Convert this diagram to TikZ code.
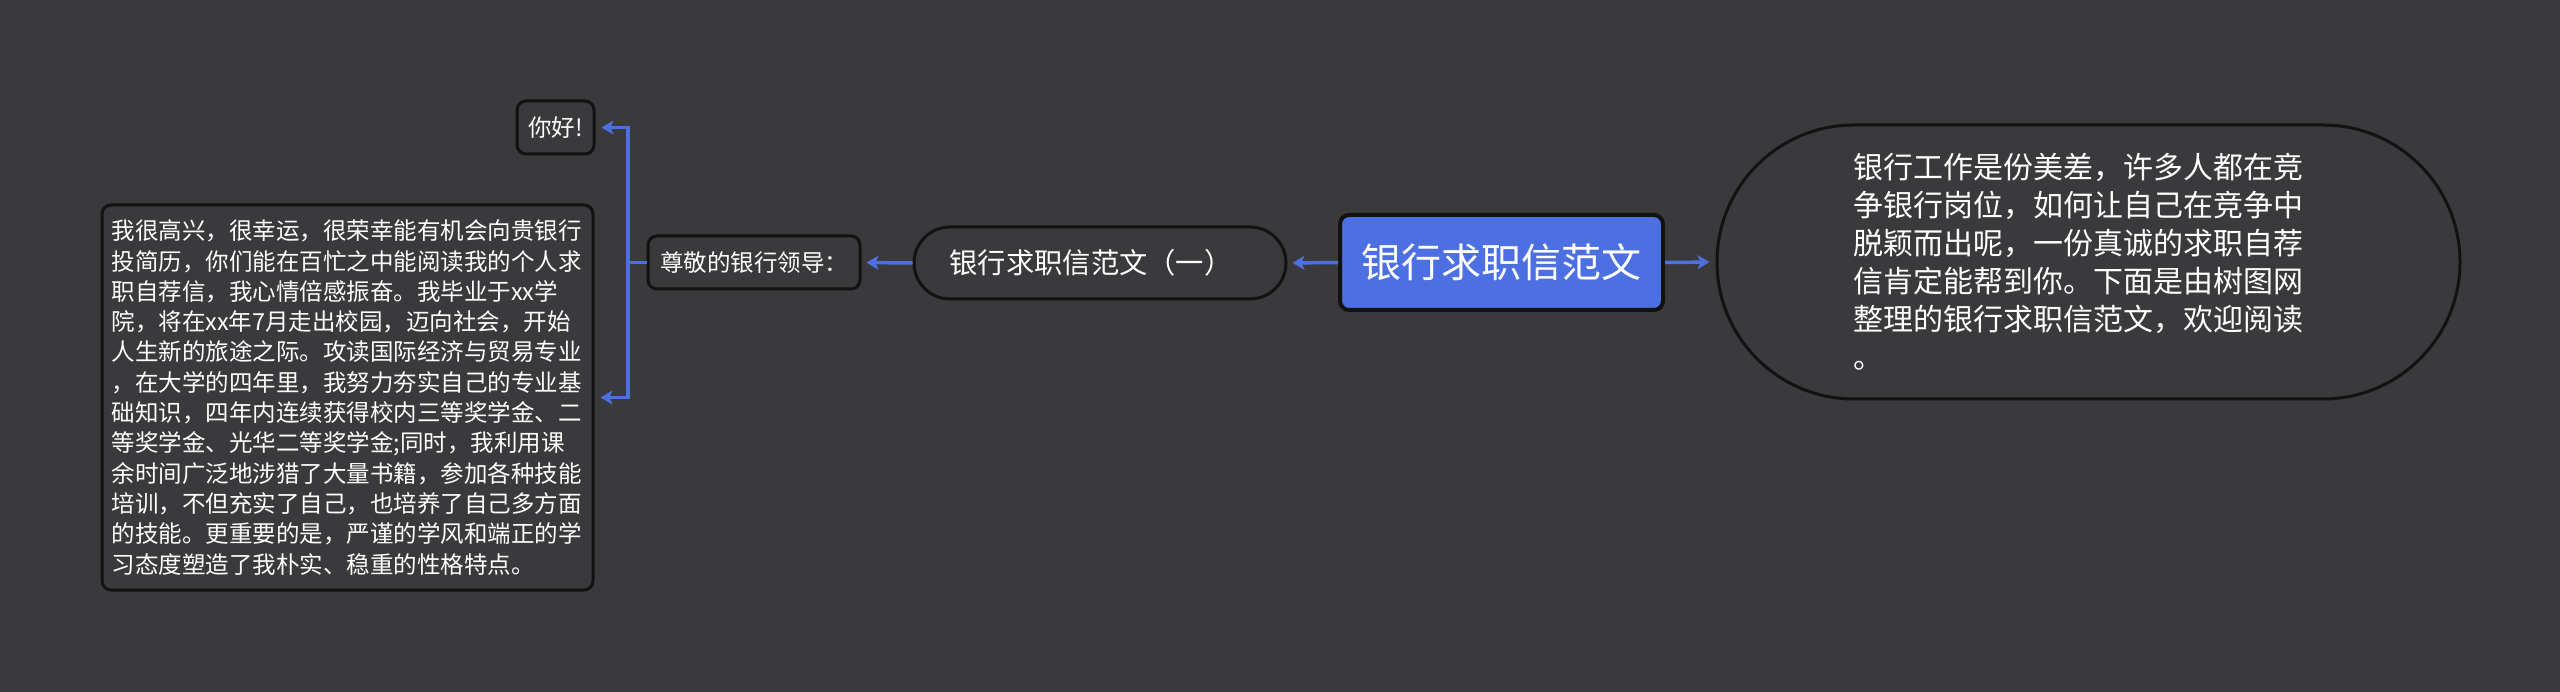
\documentclass[tikz,border=0pt]{standalone}
\usepackage{fontspec}
\setmainfont{Noto Sans CJK SC}
\usetikzlibrary{arrows.meta}
\definecolor{bgc}{RGB}{58,57,60}
\definecolor{bluec}{RGB}{76,111,225}
\definecolor{edgec}{RGB}{18,18,18}
\begin{document}
\begin{tikzpicture}[x=1pt,y=-1pt,
  box/.style={draw=edgec, line width=3pt, fill=bgc, text=white, rounded corners=9pt, inner sep=0pt, align=left},
  conn/.style={draw=bluec, line width=3.5pt, -{Stealth[length=12pt,width=14pt,inset=3pt]}},
  small/.style={font=\fontsize{23.5}{30.3}\selectfont}
]
\fill[bgc] (0,0) rectangle (2560,692);
\useasboundingbox (0,0) rectangle (2560,692);

\node[box, fill=bluec, line width=4pt, minimum width=323pt, minimum height=95pt,
  font=\fontsize{40}{48}\selectfont] (root) at (1501.5,262.5) {银行求职信范文};

\node[box, rounded corners=36pt, minimum width=372pt, minimum height=72pt,
  font=\fontsize{28.3}{34}\selectfont] (sub) at (1100,263) {银行求职信范文（一）\hspace*{18pt}};

\node[box, rounded corners=137pt, minimum width=743pt, minimum height=274pt,
  text width=470pt, font=\fontsize{30}{38}\selectfont] (intro) at (2088.5,262) {银行工作是份美差，许多人都在竞\\争银行岗位，如何让自己在竞争中\\脱颖而出呢，一份真诚的求职自荐\\信肯定能帮到你。下面是由树图网\\整理的银行求职信范文，欢迎阅读\\。};

\node[box, small, minimum width=212pt, minimum height=53pt] (greet) at (754,262.5) {尊敬的银行领导：};

\node[box, small, minimum width=77pt, minimum height=53pt] (hello) at (555.5,127.5) {你好!};

\node[box, small, minimum width=491pt, minimum height=385pt, text width=472pt] (body) at (347.5,397.5) {我很高兴，很幸运，很荣幸能有机会向贵银行\\投简历，你们能在百忙之中能阅读我的个人求\\职自荐信，我心情倍感振奋。我毕业于xx学\\院，将在xx年7月走出校园，迈向社会，开始\\人生新的旅途之际。攻读国际经济与贸易专业\\，在大学的四年里，我努力夯实自己的专业基\\础知识，四年内连续获得校内三等奖学金、二\\等奖学金、光华二等奖学金;同时，我利用课\\余时间广泛地涉猎了大量书籍，参加各种技能\\培训，不但充实了自己，也培养了自己多方面\\的技能。更重要的是，严谨的学风和端正的学\\习态度塑造了我朴实、稳重的性格特点。};

\coordinate (br) at (628,262.5);

\draw[conn, shorten >=5pt] (root.west) -- (sub.east);
\draw[conn, shorten >=6pt] (root.east) -- (intro.west);
\draw[conn, shorten >=5pt] (sub.west) -- (greet.east);
\draw[conn, shorten >=6pt] (greet.west) -- (br) |- (hello.east);
\draw[conn, shorten >=6pt] (greet.west) -- (br) |- (body.east);
\end{tikzpicture}
\end{document}
